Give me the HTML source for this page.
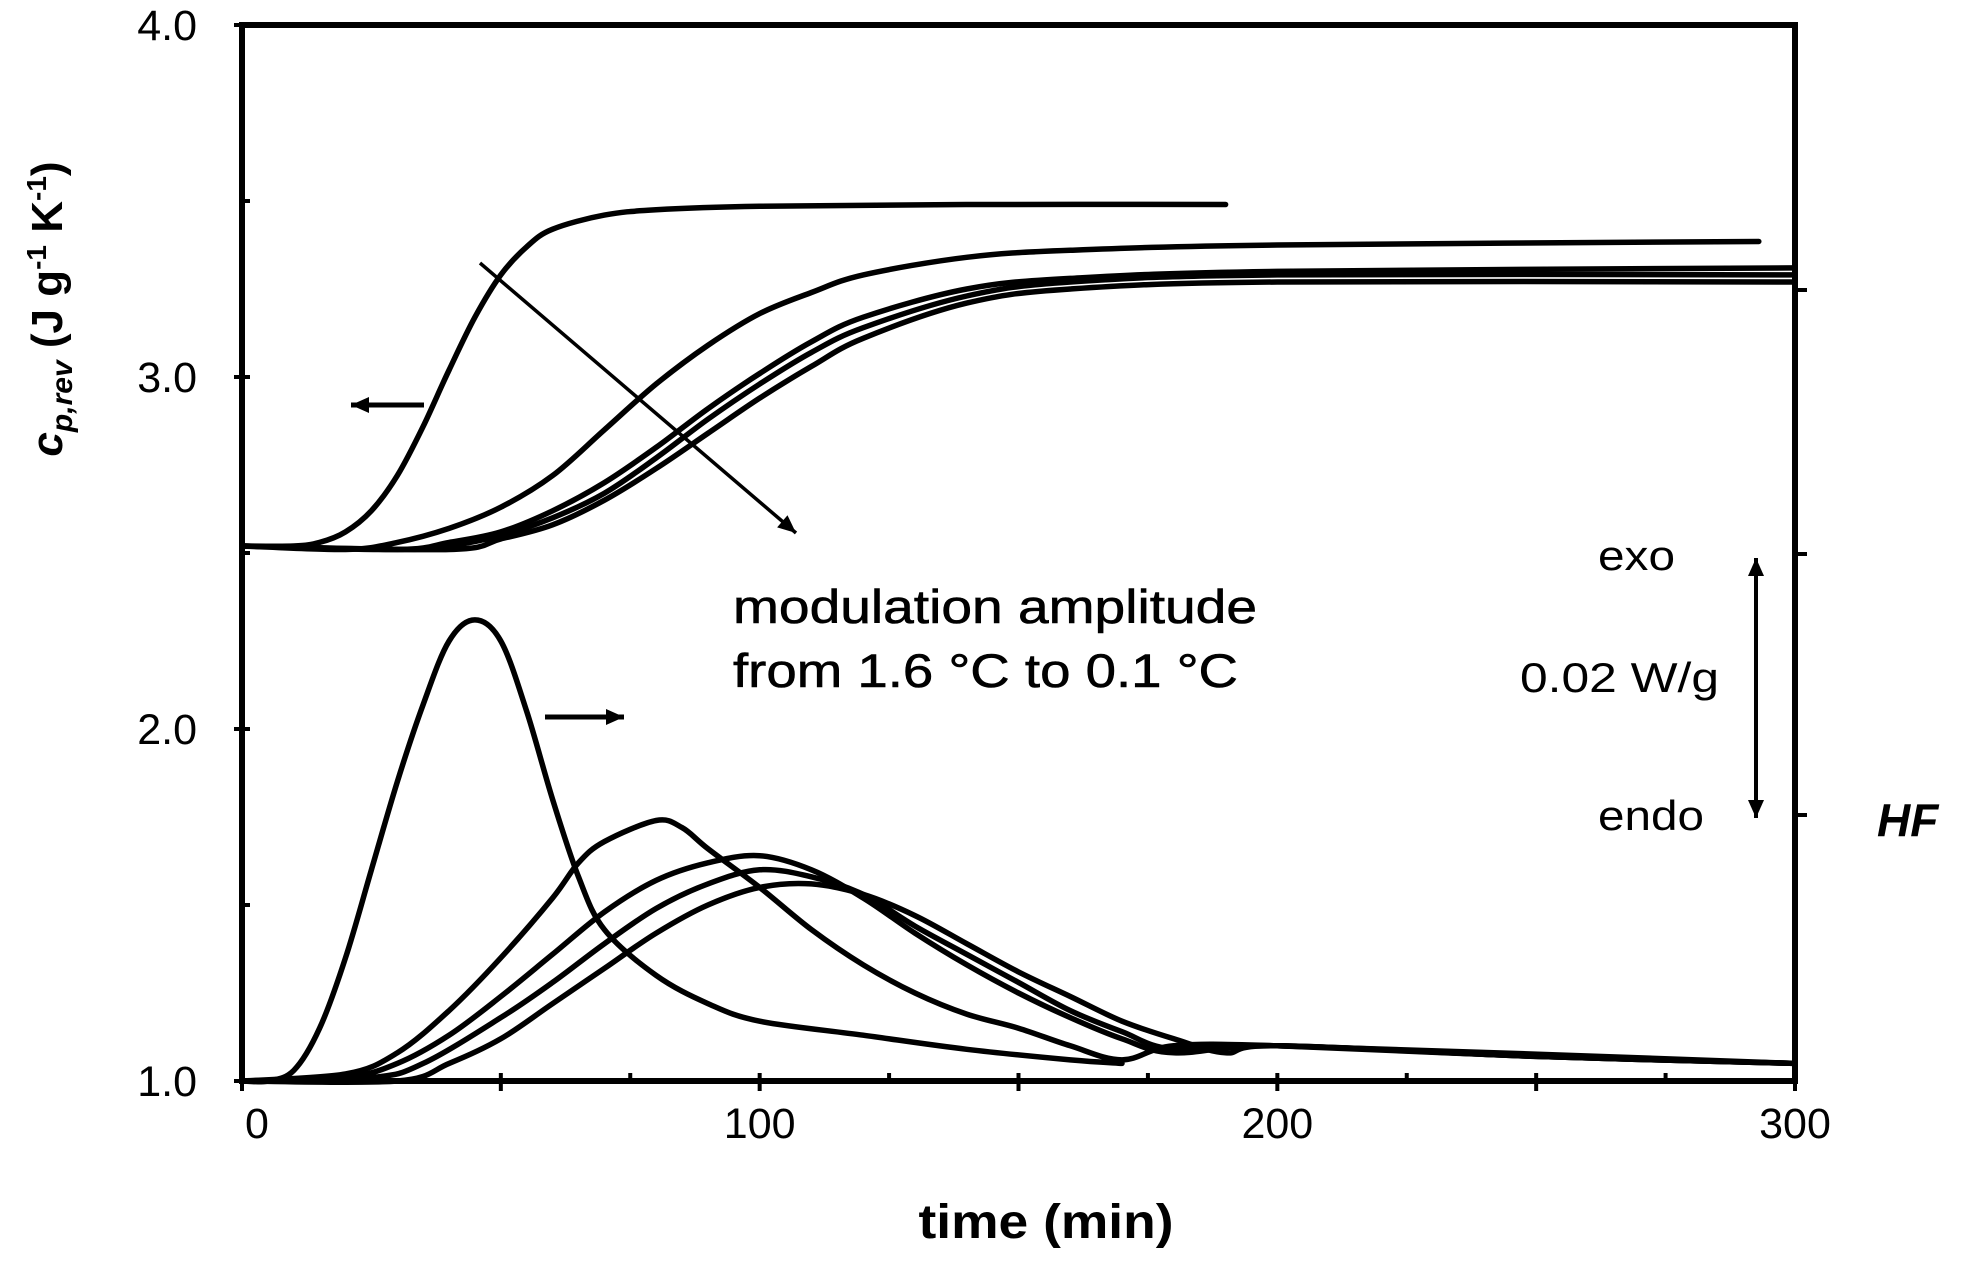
<!DOCTYPE html>
<html><head><meta charset="utf-8">
<style>
html,body{margin:0;padding:0;background:#fff;}
svg{display:block;}
text{font-family:"Liberation Sans",sans-serif;fill:#000;}
.ann{stroke:#000;stroke-width:0.6;}
</style></head>
<body>
<svg id="chart" width="1965" height="1268" viewBox="0 0 1965 1268" xmlns="http://www.w3.org/2000/svg">
<g id="axes"></g>
<g id="series"></g>
<g id="labels"></g>
</svg>
<script>
// ---- data ----
const xTicks = [0, 100, 200, 300];
const xTickLabels = ["0", "100", "200", "300"];
const yTicks = [1.0, 2.0, 3.0, 4.0];
const yTickLabels = ["1.0", "2.0", "3.0", "4.0"];
// cp,rev curves (time min, J/g/K)
const cp1T = [0,10,15,20,25,30,35,40,45,50,55,60,70,80,100,140,190];
const cp1V = [2.52,2.52,2.53,2.56,2.62,2.72,2.86,3.02,3.17,3.29,3.37,3.42,3.46,3.475,3.485,3.49,3.49];
const cp2T = [0,20,30,40,50,60,70,80,90,100,110,120,140,160,200,293];
const cp2V = [2.52,2.51,2.53,2.57,2.63,2.72,2.85,2.98,3.09,3.18,3.24,3.29,3.34,3.36,3.375,3.385];
const cp3T = [0,30,40,50,60,70,80,90,100,110,120,140,160,200,300];
const cp3V = [2.52,2.51,2.53,2.56,2.62,2.70,2.80,2.91,3.01,3.10,3.17,3.25,3.28,3.30,3.31];
const cp4T = [0,30,40,50,60,70,80,90,100,110,120,140,160,200,300];
const cp4V = [2.52,2.51,2.52,2.55,2.60,2.67,2.77,2.88,2.98,3.07,3.14,3.23,3.27,3.29,3.29];
const cp5T = [0,40,50,60,70,80,90,100,110,120,140,160,200,300];
const cp5V = [2.52,2.51,2.54,2.58,2.65,2.74,2.84,2.94,3.03,3.11,3.21,3.25,3.27,3.27];
// heat flow curves (plotted on same frame)
const hfAT = [0,5,10,15,20,25,30,35,40,45,50,55,60,65,70,80,90,100,120,140,160,170];
const hfAV = [1.0,1.0,1.03,1.15,1.35,1.6,1.85,2.07,2.25,2.31,2.25,2.05,1.8,1.58,1.43,1.3,1.22,1.17,1.13,1.09,1.06,1.05];
const hfBT = [0,20,30,40,50,60,65,70,80,85,90,100,110,120,130,140,150,160,170,180,200,250,300];
const hfBV = [1.0,1.02,1.08,1.2,1.35,1.52,1.62,1.68,1.74,1.72,1.66,1.55,1.43,1.33,1.25,1.19,1.15,1.1,1.06,1.1,1.1,1.07,1.05];
const hfCT = [0,20,30,40,50,60,70,80,90,100,110,120,130,140,150,160,170,180,200,250,300];
const hfCV = [1.0,1.01,1.05,1.13,1.24,1.36,1.48,1.57,1.62,1.64,1.6,1.52,1.42,1.33,1.25,1.18,1.12,1.08,1.1,1.07,1.05];
const hfDT = [0,25,35,50,60,70,80,90,100,110,120,130,140,150,160,170,180,200,300];
const hfDV = [1.0,1.01,1.05,1.18,1.28,1.39,1.49,1.56,1.6,1.58,1.53,1.44,1.36,1.28,1.2,1.14,1.09,1.1,1.05];
const hfET = [0,30,40,50,60,70,80,90,100,110,120,130,140,150,160,170,180,190,200,250,300];
const hfEV = [1.0,1.0,1.05,1.12,1.22,1.32,1.42,1.5,1.55,1.56,1.53,1.47,1.39,1.31,1.24,1.17,1.12,1.08,1.1,1.07,1.05];

// ---- scales ----
const X0 = 242, X1 = 1795, Y0 = 1081, Y1 = 25;
function sx(t){ return X0 + (t/300)*(X1-X0); }
function sy(v){ return Y0 - (v-1)/3*(Y0-Y1); }
const NS = "http://www.w3.org/2000/svg";
function mk(tag, attrs, parent){
  const e = document.createElementNS(NS, tag);
  for (const k in attrs) e.setAttribute(k, attrs[k]);
  parent.appendChild(e); return e;
}
const axes = document.getElementById('axes');
const series = document.getElementById('series');
const labels = document.getElementById('labels');

let fr = mk('rect', {x:X0, y:Y1, width:X1-X0, height:Y0-Y1, fill:'none', stroke:'#000', 'stroke-width':6}, axes);



for (let v = 1; v <= 4.001; v += 0.5) {
  const major = Math.abs(v - Math.round(v)) < 0.01;
  let t = mk('line', {x1: major ? X0-8 : X0, x2: X0+8, y1: sy(v), y2: sy(v), stroke:'#000', 'stroke-width':4}, axes);
  
  
}
yTicks.forEach((v,i)=>{
  let t = mk('text', {x:197, y:sy(v)+15, 'font-size':43, 'text-anchor':'end'}, labels);
  t.textContent = yTickLabels[i];
  
  
});
for (let t0 = 0; t0 <= 300; t0 += 25) {
  const major = t0 % 50 === 0;
  let t = mk('line', {x1:sx(t0), x2:sx(t0), y1:Y0-8, y2: major ? Y0+10 : Y0, stroke:'#000', 'stroke-width':4}, axes);
  
  
}
xTicks.forEach((v,i)=>{
  let t = mk('text', {x:sx(v)+ (i===0?15:0), y:1138, 'font-size':43, 'text-anchor':'middle'}, labels);
  t.textContent = xTickLabels[i];
  
  
});
[290, 554, 815].forEach(y=>{
  let t = mk('line', {x1:X1-2, x2:X1+12, y1:y, y2:y, stroke:'#000', 'stroke-width':4}, axes);
  
  
});

function smoothPath(xs, ys){
  let d = 'M' + xs[0].toFixed(1) + ',' + ys[0].toFixed(1);
  for (let i = 0; i < xs.length-1; i++) {
    const i0 = Math.max(0,i-1), i3 = Math.min(xs.length-1,i+2);
    const c1x = xs[i] + (xs[i+1]-xs[i0])/6, c1y = ys[i] + (ys[i+1]-ys[i0])/6;
    const c2x = xs[i+1] - (xs[i3]-xs[i])/6, c2y = ys[i+1] - (ys[i3]-ys[i])/6;
    d += ` C${c1x.toFixed(1)},${c1y.toFixed(1)} ${c2x.toFixed(1)},${c2y.toFixed(1)} ${xs[i+1].toFixed(1)},${ys[i+1].toFixed(1)}`;
  }
  return d;
}
const allSeries = [
  ['cp-curve-1.6', cp1T, cp1V], ['cp-curve-2', cp2T, cp2V], ['cp-curve-3', cp3T, cp3V],
  ['cp-curve-4', cp4T, cp4V], ['cp-curve-0.1', cp5T, cp5V],
  ['hf-curve-1.6', hfAT, hfAV], ['hf-curve-2', hfBT, hfBV], ['hf-curve-3', hfCT, hfCV],
  ['hf-curve-4', hfDT, hfDV], ['hf-curve-0.1', hfET, hfEV]
];
allSeries.forEach(s=>{
  const xs = s[1].map(sx), ys = s[2].map(sy);
  let p = mk('path', {d:smoothPath(xs, ys), fill:'none', stroke:'#000', 'stroke-width':5.5, 'stroke-linejoin':'round', 'stroke-linecap':'round'}, series);
  
  
});

function arrow(x1,y1,x2,y2,name,w){
  const g = mk('g', {}, labels);
  
  
  mk('line', {x1:x1,y1:y1,x2:x2,y2:y2,stroke:'#000','stroke-width':w}, g);
  const a = Math.atan2(y2-y1, x2-x1), L=18, H=8;
  const bx = x2 - L*Math.cos(a), by = y2 - L*Math.sin(a);
  const px = -Math.sin(a)*H, py = Math.cos(a)*H;
  mk('polygon', {points:`${x2},${y2} ${bx+px},${by+py} ${bx-px},${by-py}`, fill:'#000'}, g);
}
arrow(480,263,796,533,'amplitude-arrow',3.5);
arrow(424,405,351,405,'left-axis-arrow',5);
arrow(545,717,624,717,'right-axis-arrow',5);
arrow(1756,700,1756,558,'exo-arrow',4);
arrow(1756,700,1756,818,'endo-arrow',4);

function txt(x,y,s,attrs,name){
  const t = mk('text', Object.assign({x:x,y:y}, attrs), labels);
  t.textContent = s;
  
  
  return t;
}
txt(733,623,'modulation amplitude',{'font-size':47,class:'ann',textLength:524,lengthAdjust:'spacingAndGlyphs'},'annotation-line-1');
txt(733,687,'from 1.6 °C to 0.1 °C',{'font-size':47,class:'ann',textLength:505,lengthAdjust:'spacingAndGlyphs'},'annotation-line-2');
txt(1598,570,'exo',{'font-size':42,textLength:77,lengthAdjust:'spacingAndGlyphs'},'exo-label');
txt(1520,692,'0.02 W/g',{'font-size':42,textLength:199,lengthAdjust:'spacingAndGlyphs'},'scale-label');
txt(1598,830,'endo',{'font-size':42,textLength:106,lengthAdjust:'spacingAndGlyphs'},'endo-label');
txt(1877,836,'HF',{'font-size':46,'font-weight':'bold','font-style':'italic'},'right-axis-title');
txt(1046,1238,'time (min)',{'font-size':48,'font-weight':'bold','text-anchor':'middle',textLength:255,lengthAdjust:'spacingAndGlyphs'},'x-axis-title');

const yt = mk('text', {transform:'translate(62,309) rotate(-90)', 'text-anchor':'middle', 'font-size':44, 'font-weight':'bold'}, labels);


yt.innerHTML = '<tspan font-style="italic">c</tspan><tspan font-style="italic" font-size="30" dy="10">p,rev</tspan><tspan dy="-10"> (J g</tspan><tspan font-size="28" dy="-16">-1</tspan><tspan dy="16"> K</tspan><tspan font-size="28" dy="-16">-1</tspan><tspan dy="16">)</tspan>';
</script>
</body></html>
